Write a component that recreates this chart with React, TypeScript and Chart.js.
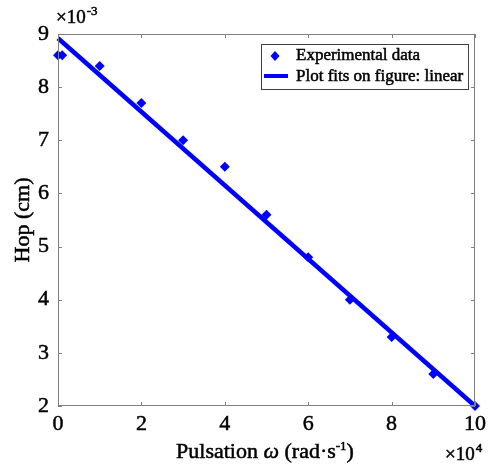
import React, { useEffect, useRef } from "react";
import { Chart, registerables } from "chart.js";

Chart.register(...registerables);

const pulsationX = [0, 0.1, 1, 2, 3, 4, 5, 6, 7, 8, 9, 10];
const hopValues = [8.6, 8.6, 8.4, 7.7, 7.0, 6.5, 5.6, 4.8, 4.0, 3.3, 2.6, 2.0];
const fitX = [0, 10];
const fitY = [8.92, 2.0];
const xTicks = [0, 2, 4, 6, 8, 10];
const yTicks = [2, 3, 4, 5, 6, 7, 8, 9];
const legendLabels = ["Experimental data", "Plot fits on figure: linear"];

const FONT = "'Liberation Serif', 'Times New Roman', serif";
const BLUE = "#0000ff";
const AXIS_GRAY = "#808080";
const TEXT_STROKE = 0.5;

function heavyText(ctx: any, t: string, x: number, y: number) {
  ctx.fillText(t, x, y);
  ctx.lineWidth = TEXT_STROKE;
  ctx.strokeStyle = "#000";
  ctx.strokeText(t, x, y);
}

const decorPlugin = {
  id: "decor",
  afterDraw(chart: any) {
    const { ctx, chartArea } = chart;
    const { left, right, top, bottom } = chartArea;
    const xs = chart.scales.x;
    const ys = chart.scales.y;
    ctx.save();
    // box
    ctx.strokeStyle = AXIS_GRAY;
    ctx.lineWidth = 1;
    ctx.strokeRect(left + 0.5, top + 0.5, right - left - 1, bottom - top - 1);
    // inward ticks
    const tl = 4;
    ctx.beginPath();
    xTicks.forEach((v) => {
      const px = Math.round(xs.getPixelForValue(v)) + 0.5;
      ctx.moveTo(px, bottom);
      ctx.lineTo(px, bottom - tl);
      ctx.moveTo(px, top);
      ctx.lineTo(px, top + tl);
    });
    yTicks.forEach((v) => {
      const py = Math.round(ys.getPixelForValue(v)) + 0.5;
      ctx.moveTo(left, py);
      ctx.lineTo(left + tl, py);
      ctx.moveTo(right, py);
      ctx.lineTo(right - tl, py);
    });
    ctx.stroke();

    ctx.fillStyle = "#000";
    ctx.textBaseline = "alphabetic";
    // exponent labels
    ctx.font = `19px ${FONT}`;
    ctx.textAlign = "left";
    heavyText(ctx, "×10", left - 2, 23);
    let w = ctx.measureText("×10").width;
    ctx.font = `13px ${FONT}`;
    heavyText(ctx, "-3", left - 1 + w, 15);

    ctx.font = `19px ${FONT}`;
    const bx = 445;
    heavyText(ctx, "×10", bx, 460);
    w = ctx.measureText("×10").width;
    ctx.font = `13px ${FONT}`;
    heavyText(ctx, "4", bx + w + 1, 452);

    // x title
    const parts: [string, string, number][] = [
      ["Pulsation ", `22px ${FONT}`, 0],
      ["ω", `italic 22px ${FONT}`, 0],
      [" (rad·s", `22px ${FONT}`, 0],
      ["-1", `13px ${FONT}`, -8],
      [")", `22px ${FONT}`, 0],
    ];
    let total = 0;
    parts.forEach(([t, f]) => {
      ctx.font = f;
      total += ctx.measureText(t).width;
    });
    let cx = 265 - total / 2;
    parts.forEach(([t, f, dy]) => {
      ctx.font = f;
      heavyText(ctx, t, cx, 458 + dy);
      cx += ctx.measureText(t).width;
    });

    // y title
    ctx.save();
    ctx.translate(29, (top + bottom) / 2);
    ctx.rotate(-Math.PI / 2);
    ctx.textAlign = "center";
    ctx.font = `22px ${FONT}`;
    heavyText(ctx, "Hop (cm)", 0, 0);
    ctx.restore();

    // legend
    const lx = 261, ly = 44, lw = 207, lh = 45;
    ctx.fillStyle = "#fff";
    ctx.fillRect(lx, ly, lw, lh);
    ctx.strokeStyle = "#404040";
    ctx.lineWidth = 1;
    ctx.strokeRect(lx + 0.5, ly + 0.5, lw, lh);
    // diamond
    ctx.fillStyle = BLUE;
    const dx = 275, dy1 = 56;
    ctx.beginPath();
    ctx.moveTo(dx, dy1 - 5);
    ctx.lineTo(dx + 4.5, dy1);
    ctx.lineTo(dx, dy1 + 5);
    ctx.lineTo(dx - 4.5, dy1);
    ctx.closePath();
    ctx.fill();
    // line
    ctx.strokeStyle = BLUE;
    ctx.lineWidth = 4;
    ctx.beginPath();
    ctx.moveTo(264, 76);
    ctx.lineTo(288, 76);
    ctx.stroke();
    ctx.fillStyle = "#000";
    ctx.font = `17px ${FONT}`;
    ctx.textAlign = "left";
    ctx.textBaseline = "middle";
    heavyText(ctx, legendLabels[0], 296, 56);
    heavyText(ctx, legendLabels[1], 296, 77);
    ctx.restore();
  },
};

export default function App() {
  const ref = useRef<HTMLCanvasElement>(null);
  useEffect(() => {
    document.body.style.margin = "0";
    const canvas = ref.current!;
    const chart = new Chart(canvas, {
      type: "scatter",
      data: {
        datasets: [
          {
            label: legendLabels[1],
            type: "line",
            data: fitX.map((x, i) => ({ x, y: fitY[i] })),
            borderColor: BLUE,
            borderWidth: 4.5,
            pointRadius: 0,
            showLine: true,
            fill: false,
            clip: false,
          } as any,
          {
            label: legendLabels[0],
            data: pulsationX.map((x, i) => ({ x, y: hopValues[i] })),
            backgroundColor: BLUE,
            borderColor: BLUE,
            pointStyle: "rectRot",
            pointRadius: 5,
            borderWidth: 0,
            clip: false,
          } as any,
        ],
      },
      options: {
        animation: false,
        responsive: false,
        layout: { padding: { left: 0, right: 12, top: 34, bottom: 0 } },
        plugins: { legend: { display: false }, tooltip: { enabled: false } },
        scales: {
          x: {
            type: "linear",
            min: 0,
            max: 10,
            afterBuildTicks: (s: any) => {
              s.ticks = xTicks.map((v) => ({ value: v }));
            },
            afterFit: (s: any) => {
              s.height = 61;
            },
            grid: { display: false, drawTicks: false },
            border: { display: false },
            ticks: {
              color: "#000",
              font: { family: FONT, size: 22 },
              padding: 5,
              maxRotation: 0,
              textStrokeColor: "#000",
              textStrokeWidth: TEXT_STROKE,
            },
          },
          y: {
            type: "linear",
            min: 2,
            max: 9,
            afterBuildTicks: (s: any) => {
              s.ticks = yTicks.map((v) => ({ value: v }));
            },
            afterFit: (s: any) => {
              s.width = 58;
            },
            grid: { display: false, drawTicks: false },
            border: { display: false },
            ticks: {
              color: "#000",
              font: { family: FONT, size: 22 },
              padding: 9,
              textStrokeColor: "#000",
              textStrokeWidth: TEXT_STROKE,
            },
          },
        },
      },
      plugins: [decorPlugin],
    });
    return () => chart.destroy();
  }, []);
  return <canvas ref={ref} width={491} height={467} style={{ display: "block" }} />;
}
